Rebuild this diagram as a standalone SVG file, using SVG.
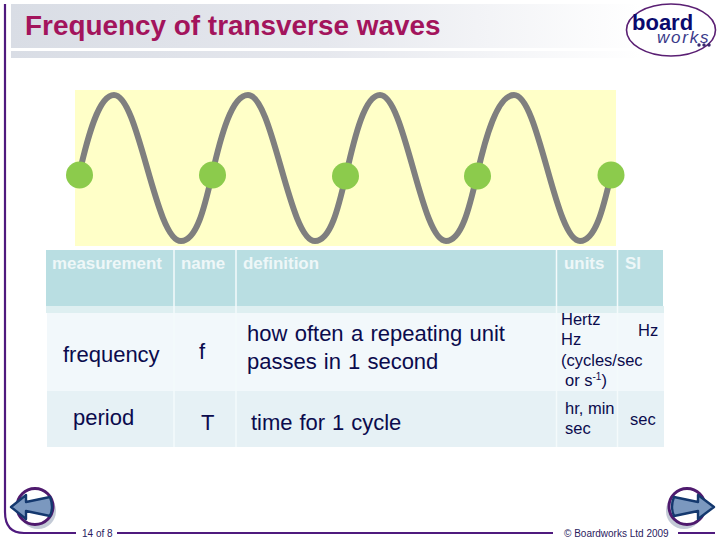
<svg xmlns="http://www.w3.org/2000/svg" width="720" height="540" viewBox="0 0 720 540">
<style>
text{font-family:"Liberation Sans",Arial,sans-serif}
.h{font-size:16.9px;font-weight:bold;fill:#eef7f8}
.b{fill:#0b0b4d}
.m{font-size:22px}
.s{font-size:16.500px}
.sep{stroke:#f4fafb;stroke-width:1.500;fill:none}
.f{font-size:10px;fill:#2a1a5e}
.nav{fill:#7b98bf;stroke:#14386e;stroke-width:2.400;stroke-linejoin:round}
.ring{fill:#fff;stroke:#4f1a6e;stroke-width:3}
.dot{fill:#8ccb4c}
</style>
<defs>
<linearGradient id="band" x1="0" x2="1" y1="0" y2="0"><stop offset="0" stop-color="#d9dde5"/><stop offset="0.5" stop-color="#e6e8ee"/><stop offset="1" stop-color="#ffffff"/></linearGradient>
</defs>
<rect width="720" height="540" fill="#fff"/>
<g id="header">
<rect x="11" y="4" width="630" height="44" fill="url(#band)"/>
<rect x="11" y="51" width="630" height="7" fill="url(#band)"/>
<text x="25" y="35" font-size="27.900" font-weight="bold" fill="#a3145c">Frequency of transverse waves</text>
</g>
<g id="logo">
<ellipse cx="671" cy="30" rx="44.500" ry="26" fill="#fff" stroke="#5a1f73" stroke-width="1.600"/>
<text x="632" y="30" font-size="22" font-weight="bold" fill="#0a0a6e">board</text>
<text x="657" y="43" font-size="17" font-style="italic" letter-spacing="1.800" fill="#3a3a8a">works</text>
<circle cx="699" cy="45" r="1.700" fill="#3a2a6e"/><circle cx="704" cy="45" r="1.700" fill="#3a2a6e"/><circle cx="709" cy="45" r="1.700" fill="#3a2a6e"/>
</g>
<g id="frame" fill="none" stroke="#4f1a7e" stroke-width="2">
<path d="M5 4V512Q5 533 24 533H76" stroke-width="2.200"/>
<path d="M117 533H553"/>
<path d="M678 533H715"/>
</g>
<g id="wave-panel">
<rect x="75" y="90" width="541" height="156" fill="#ffffc8"/>
<path fill="none" stroke="#7f7f7f" stroke-width="6" d="M79 175C88 135 99 95 114 95C139 95 155 241 181 241C197 241 205 205 212 175C221 135 232 95 248 95C273 95 289 241 315 241C331 241 339 205 346 175C355 135 365 95 380 95C405 95 421 241 446 241C462 241 470 205 477 175C486 135 498 95 514 95C539 95 555 241 580 241C596 241 604 205 611 175"/>
</g>
<g id="point-1"><circle class="dot" cx="79.500" cy="175" r="13.500"/></g>
<g id="point-2"><circle class="dot" cx="212.500" cy="175" r="13.500"/></g>
<g id="point-3"><circle class="dot" cx="345.500" cy="176" r="13.500"/></g>
<g id="point-4"><circle class="dot" cx="477.500" cy="176" r="13.500"/></g>
<g id="point-5"><circle class="dot" cx="611" cy="175" r="13.500"/></g>
<g id="table">
<rect x="46" y="250" width="617" height="56" fill="#b9dee2"/>
<rect x="46" y="306" width="618" height="7" fill="#deeff1"/>
<rect x="47" y="313" width="617" height="78" fill="#f2f8fb"/>
<rect x="47" y="391" width="617" height="56" fill="#e6f1f5"/>
<path class="sep" d="M174 250V447M236 250V447M556.500 250V447M617.500 250V447"/>
<text class="h" x="52" y="269">measurement</text>
<text class="h" x="181" y="269">name</text>
<text class="h" x="243" y="269">definition</text>
<text class="h" x="564" y="269">units</text>
<text class="h" x="625" y="269">SI</text>
<text class="b m" x="63" y="362">frequency</text>
<text class="b m" x="199" y="359">f</text>
<text class="b m" x="247" y="341" word-spacing="1.200">how often a repeating unit</text>
<text class="b m" x="247" y="369" word-spacing="1">passes in 1 second</text>
<text class="b m" x="73" y="425">period</text>
<text class="b m" x="201" y="430">T</text>
<text class="b m" x="251" y="430" word-spacing="0.800">time for 1 cycle</text>
<text class="b s" x="561" y="325">Hertz</text>
<text class="b s" x="638" y="336">Hz</text>
<text class="b s" x="561" y="345">Hz</text>
<text class="b s" x="561" y="366">(cycles/sec</text>
<text class="b s" x="565" y="386">or s<tspan font-size="10" dy="-6">-1</tspan><tspan dy="6">)</tspan></text>
<text class="b s" x="565" y="414">hr, min</text>
<text class="b s" x="565" y="434">sec</text>
<text class="b s" x="630" y="425">sec</text>
</g>
<g id="footer">
<text class="f" x="82" y="537">14 of 8</text>
<text class="f" x="564" y="537">© Boardworks Ltd 2009</text>
</g>
<g id="nav-back">
<circle cx="38" cy="511" r="18" fill="#c3cad6"/>
<circle class="ring" cx="35" cy="506.500" r="18"/>
<path class="nav" d="M11 507L26 495V502L50 497Q54 507 50 516L26 511V519Z"/>
</g>
<g id="nav-forward">
<circle cx="684" cy="511" r="18" fill="#c3cad6"/>
<circle class="ring" cx="687" cy="506.500" r="18"/>
<path class="nav" d="M714 507L698 495V502L674 497Q670 507 674 516L698 511V519Z"/>
</g>
</svg>
